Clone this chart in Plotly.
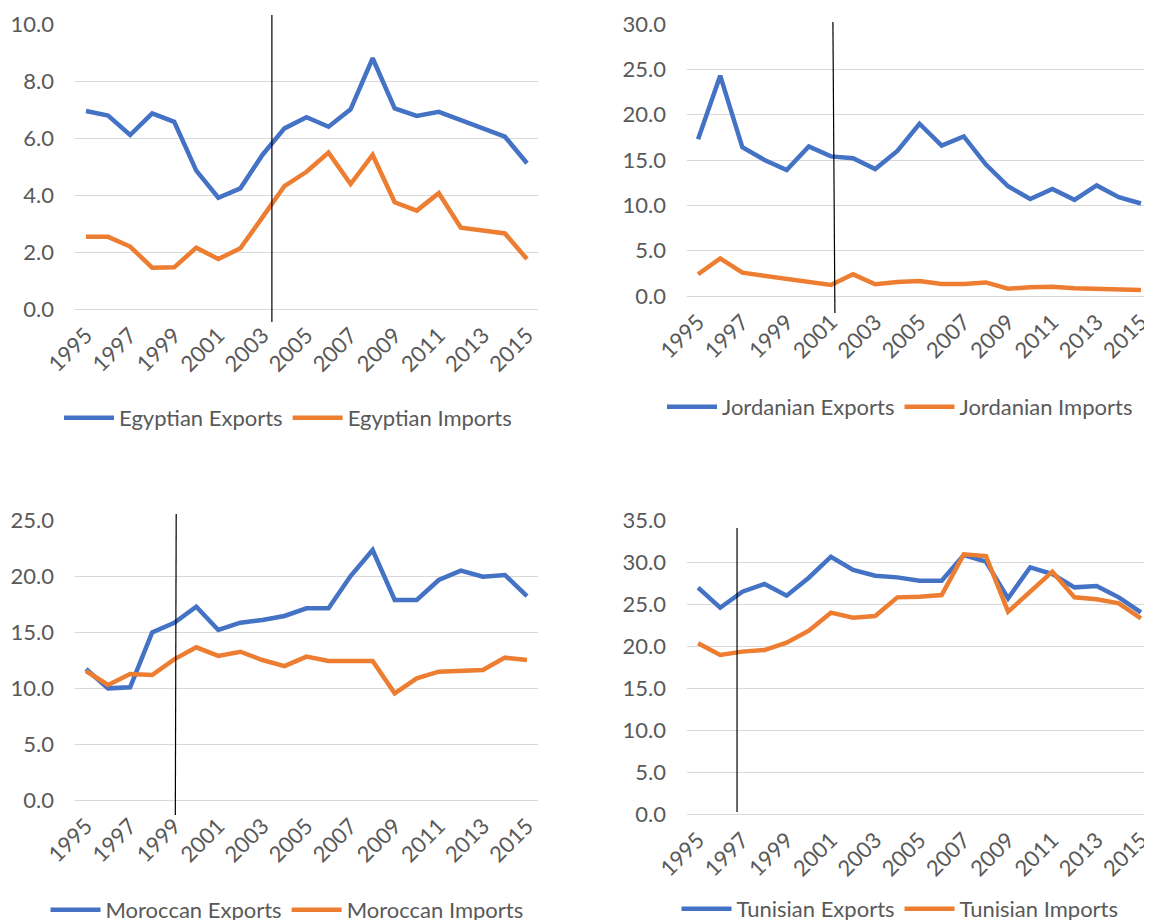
import plotly.graph_objects as go

# ---------------- data ----------------
years = list(range(1995, 2016))
tick_years = list(range(1995, 2016, 2))

egyptian_exports = [6.95, 6.79, 6.11, 6.87, 6.57, 4.86, 3.91, 4.24, 5.41, 6.34, 6.73,
                    6.40, 7.01, 8.80, 7.04, 6.78, 6.92, 6.62, 6.34, 6.05, 5.12]
egyptian_imports = [2.54, 2.54, 2.20, 1.46, 1.47, 2.16, 1.76, 2.14, 3.22, 4.32, 4.82,
                    5.49, 4.39, 5.41, 3.75, 3.46, 4.07, 2.86, 2.76, 2.66, 1.76]

jordanian_exports = [17.3, 24.3, 16.4, 15.0, 13.9, 16.5, 15.4, 15.2, 14.0, 16.0, 19.0,
                     16.6, 17.6, 14.5, 12.1, 10.7, 11.8, 10.6, 12.2, 10.9, 10.2]
jordanian_imports = [2.4, 4.15, 2.57, 2.2, 1.95, 1.5, 1.21, 2.39, 1.29, 1.54, 1.65,
                     1.32, 1.32, 1.5, 0.81, 0.96, 1.03, 0.85, 0.77, 0.77, 0.66]

moroccan_exports = [11.7, 9.97, 10.06, 14.97, 15.83, 17.26, 15.18, 15.83, 16.07, 16.43, 17.11,
                    17.11, 20.0, 22.32, 17.86, 17.86, 19.64, 20.48, 19.94, 20.09, 18.21]
moroccan_imports = [11.52, 10.27, 11.25, 11.16, 12.56, 13.63, 12.86, 13.24, 12.5, 11.96, 12.8,
                    12.41, 12.41, 12.41, 9.52, 10.86, 11.46, 11.52, 11.6, 12.71, 12.5]

tunisian_exports = [26.94, 24.56, 26.47, 27.38, 25.99, 28.13, 30.63, 29.05, 28.37, 28.17, 27.78,
                    27.78, 30.83, 30.04, 25.67, 29.37, 28.57, 26.98, 27.14, 25.79, 24.0]
tunisian_imports = [20.32, 18.93, 19.33, 19.52, 20.4, 21.83, 23.97, 23.37, 23.57, 25.79, 25.87,
                    26.07, 30.91, 30.71, 24.09, 26.47, 28.85, 25.79, 25.56, 25.08, 23.29]

countries = ["Egyptian", "Jordanian", "Moroccan", "Tunisian"]
y_max = [10, 30, 25, 35]
y_step = [2, 5, 5, 5]
# marker line positions (year, top / bottom)
marker_top = [2003.43, 2001.09, 1999.09, 1996.76]
marker_bottom = [2003.43, 2001.18, 1999.05, 1996.76]

# ---------------- layout helpers ----------------
PAGE_OFF = 8               # default body margin of the html page
W, H = 1152 - PAGE_OFF, 920 - PAGE_OFF
BLUE = "#4472C4"
ORANGE = "#ED7D31"
GRID = "#D9D9D9"
TEXT = "#595959"
FONT = "Lato, Carlito, sans-serif"
FS = 22


def fx(p):
    return (p - PAGE_OFF) / W


def fy(p):
    return 1 - (p - PAGE_OFF) / H


# pixel boxes of each plot area in the target picture: (left, right, top, bottom)
boxes = [(75, 538, 24, 309.3), (687, 1152, 24, 296), (75, 538, 520, 800), (687, 1152, 520, 814)]
# vertical marker pixel extents (top, bottom)
marker_px = [(15, 322), (22, 313), (514, 815), (528, 812)]
# legend centres (x, y)
legend_px = [(288, 418), (900, 407), (287, 910), (900, 909)]

series = [
    (egyptian_exports, egyptian_imports),
    (jordanian_exports, jordanian_imports),
    (moroccan_exports, moroccan_imports),
    (tunisian_exports, tunisian_imports),
]

fig = go.Figure()
shapes = []
layout = dict(
    width=W, height=H,
    margin=dict(l=0, r=0, t=0, b=0, autoexpand=False),
    paper_bgcolor="white", plot_bgcolor="white",
    font=dict(family=FONT, size=FS, color=TEXT),
)

for i, name in enumerate(countries):
    s = "" if i == 0 else str(i + 1)
    exp, imp = series[i]
    leg = "legend" if i == 0 else f"legend{i + 1}"
    fig.add_trace(go.Scatter(x=years, y=exp, mode="lines", name=f"{name} Exports",
                             line=dict(color=BLUE, width=4.5), xaxis="x" + s, yaxis="y" + s,
                             legend=leg, hoverinfo="x+y+name"))
    fig.add_trace(go.Scatter(x=years, y=imp, mode="lines", name=f"{name} Imports",
                             line=dict(color=ORANGE, width=4.5), xaxis="x" + s, yaxis="y" + s,
                             legend=leg, hoverinfo="x+y+name"))
    l, r, t, b = boxes[i]
    layout["xaxis" + s] = dict(
        domain=[max(fx(l), 0.0), min(fx(r), 1.0)], anchor="y" + s,
        range=[1994.5, 2015.5], tickvals=tick_years, tickangle=-45,
        showgrid=False, zeroline=False, showline=False, ticks="", automargin=False,
        ticklabeloverflow="allow",
        tickfont=dict(family=FONT, size=FS, color=TEXT), ticklabelstandoff=8,
    )
    layout["yaxis" + s] = dict(
        domain=[fy(b), min(fy(t), 1.0)], anchor="x" + s,
        range=[0, y_max[i]], dtick=y_step[i], tick0=0, tickformat=".1f",
        showgrid=True, gridcolor=GRID, gridwidth=1.3,
        zeroline=True, zerolinecolor=GRID, zerolinewidth=1.3,
        showline=False, ticks="", automargin=False,
        tickfont=dict(family=FONT, size=FS, color=TEXT), ticklabelstandoff=20,
    )
    mt, mb = marker_px[i]
    shapes.append(dict(type="line", xref="x" + s, yref="paper",
                       x0=marker_top[i], x1=marker_bottom[i], y0=fy(mt), y1=fy(mb),
                       line=dict(color="black", width=1.2), layer="above"))
    cx, cy = legend_px[i]
    layout[leg] = dict(orientation="h", x=fx(cx), xanchor="center", y=fy(cy), yanchor="middle",
                       font=dict(family=FONT, size=FS, color=TEXT), bgcolor="rgba(0,0,0,0)",
                       itemwidth=50, tracegroupgap=0)

layout["shapes"] = shapes
layout["showlegend"] = True
fig.update_layout(**layout)
fig.write_html("out.html")
